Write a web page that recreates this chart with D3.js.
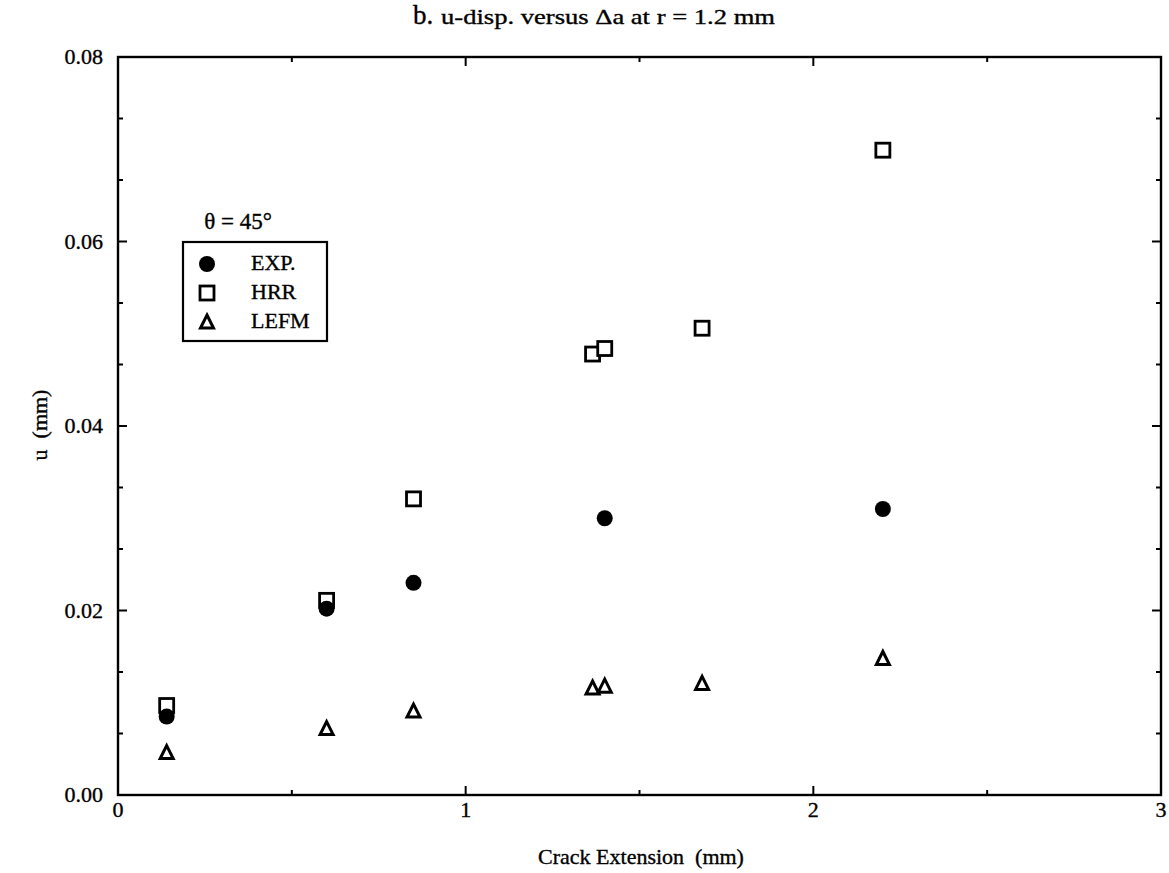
<!DOCTYPE html>
<html><head><meta charset="utf-8">
<script src="https://cdn.jsdelivr.net/npm/d3@7"></script>
<style>body{margin:0;background:#fff}svg{display:block}text{font-family:"Liberation Serif","Times New Roman",serif;fill:#000;stroke:#000;stroke-width:0.35px;white-space:pre}</style>
</head><body>
<svg id="c" width="1169" height="873"></svg>
<script>
const expX = [0.14, 0.60, 0.85, 1.40, 2.20];
const expY = [0.0085, 0.0202, 0.0230, 0.0300, 0.0310];
const hrrX = [0.14, 0.60, 0.85, 1.365, 1.40, 1.68, 2.20];
const hrrY = [0.0097, 0.0211, 0.0321, 0.0478, 0.0484, 0.0506, 0.0699];
const lefmX = [0.14, 0.60, 0.85, 1.365, 1.40, 1.68, 2.20];
const lefmY = [0.0046, 0.0072, 0.0091, 0.0116, 0.0118, 0.0121, 0.0148];
const xTicks = [0, 1, 2, 3];
const xMinor = [0.5, 1.5, 2.5];
const yTicks = [0, 0.02, 0.04, 0.06, 0.08];
const yTickLabels = ["0.00", "0.02", "0.04", "0.06", "0.08"];
const yMinor = [1,2,4,5,7,8,10,11].map(k => k * 0.02 / 3);
const legendLabels = ["EXP.", "HRR", "LEFM"];

const svg = d3.select("#c");
const L = 118, R = 1161, T = 57, B = 795;
const x = d3.scaleLinear().domain([0, 3]).range([L, R]);
const y = d3.scaleLinear().domain([0, 0.08]).range([B, T]);

const g = svg.append("g");
g.append("rect").attr("x", L).attr("y", T).attr("width", R - L).attr("height", B - T)
  .attr("fill", "none").attr("stroke", "#000").attr("stroke-width", 2.4);

function tickLines(vals, len) {
  vals.forEach(v => {
    g.append("line").attr("x1", x(v)).attr("x2", x(v)).attr("y1", B).attr("y2", B - len).attr("stroke", "#000").attr("stroke-width", 2);
    g.append("line").attr("x1", x(v)).attr("x2", x(v)).attr("y1", T).attr("y2", T + len).attr("stroke", "#000").attr("stroke-width", 2);
  });
}
tickLines(xTicks, 9);
tickLines(xMinor, 5);
function yTickLines(vals, len) {
  vals.forEach(v => {
    g.append("line").attr("y1", y(v)).attr("y2", y(v)).attr("x1", L).attr("x2", L + len).attr("stroke", "#000").attr("stroke-width", 2);
    g.append("line").attr("y1", y(v)).attr("y2", y(v)).attr("x1", R).attr("x2", R - len).attr("stroke", "#000").attr("stroke-width", 2);
  });
}
yTickLines(yTicks, 9);
yTickLines(yMinor, 5);

xTicks.forEach(v => g.append("text").attr("x", x(v)).attr("y", B + 22).attr("text-anchor", "middle").attr("font-size", 22).text(v));
yTicks.forEach((v, i) => g.append("text").attr("x", L - 15).attr("y", y(v) + 7).attr("text-anchor", "end").attr("font-size", 22).text(yTickLabels[i]));

g.append("text").attr("x", 641).attr("y", 864).attr("text-anchor", "middle").attr("font-size", 22).text("Crack Extension  (mm)");
g.append("text").attr("transform", "translate(47,425) rotate(-90)").attr("text-anchor", "middle").attr("font-size", 22).text("u  (mm)");

g.append("text").attr("x", 413).attr("y", 24).attr("font-size", 27).text("b.");
g.append("text").attr("x", 441).attr("y", 24).attr("font-size", 22)
  .attr("textLength", 334).attr("lengthAdjust", "spacingAndGlyphs")
  .text("u-disp. versus \u0394a at r = 1.2 mm");

function circle(sel, cx, cy) { sel.append("circle").attr("cx", cx).attr("cy", cy).attr("r", 8).attr("fill", "#000"); }
function square(sel, cx, cy) { sel.append("rect").attr("x", cx - 7).attr("y", cy - 7).attr("width", 14).attr("height", 14).attr("fill", "#fff").attr("stroke", "#000").attr("stroke-width", 2.8); }
function tri(sel, cx, cy) {
  const h = 12, w = 13;
  sel.append("path").attr("d", `M${cx},${cy - h/2 - 1}L${cx + w/2},${cy + h/2}L${cx - w/2},${cy + h/2}Z`)
    .attr("fill", "#fff").attr("stroke", "#000").attr("stroke-width", 3).attr("stroke-linejoin", "miter");
}
const pts = g.append("g");
hrrX.forEach((v, i) => square(pts, x(v), y(hrrY[i])));
expX.forEach((v, i) => circle(pts, x(v), y(expY[i])));
lefmX.forEach((v, i) => tri(pts, x(v), y(lefmY[i])));

g.append("text").attr("x", 238).attr("y", 229).attr("text-anchor", "middle").attr("font-size", 23).text("\u03b8 = 45\u00b0");
g.append("rect").attr("x", 183).attr("y", 242).attr("width", 144).attr("height", 99).attr("fill", "none").attr("stroke", "#000").attr("stroke-width", 2.2);
const ly = [264, 293, 322];
circle(g, 207, ly[0]);
square(g, 207, ly[1]);
tri(g, 207, ly[2]);
legendLabels.forEach((s, i) => g.append("text").attr("x", 251).attr("y", ly[i] + 6).attr("font-size", 22).text(s));
</script>
</body></html>
